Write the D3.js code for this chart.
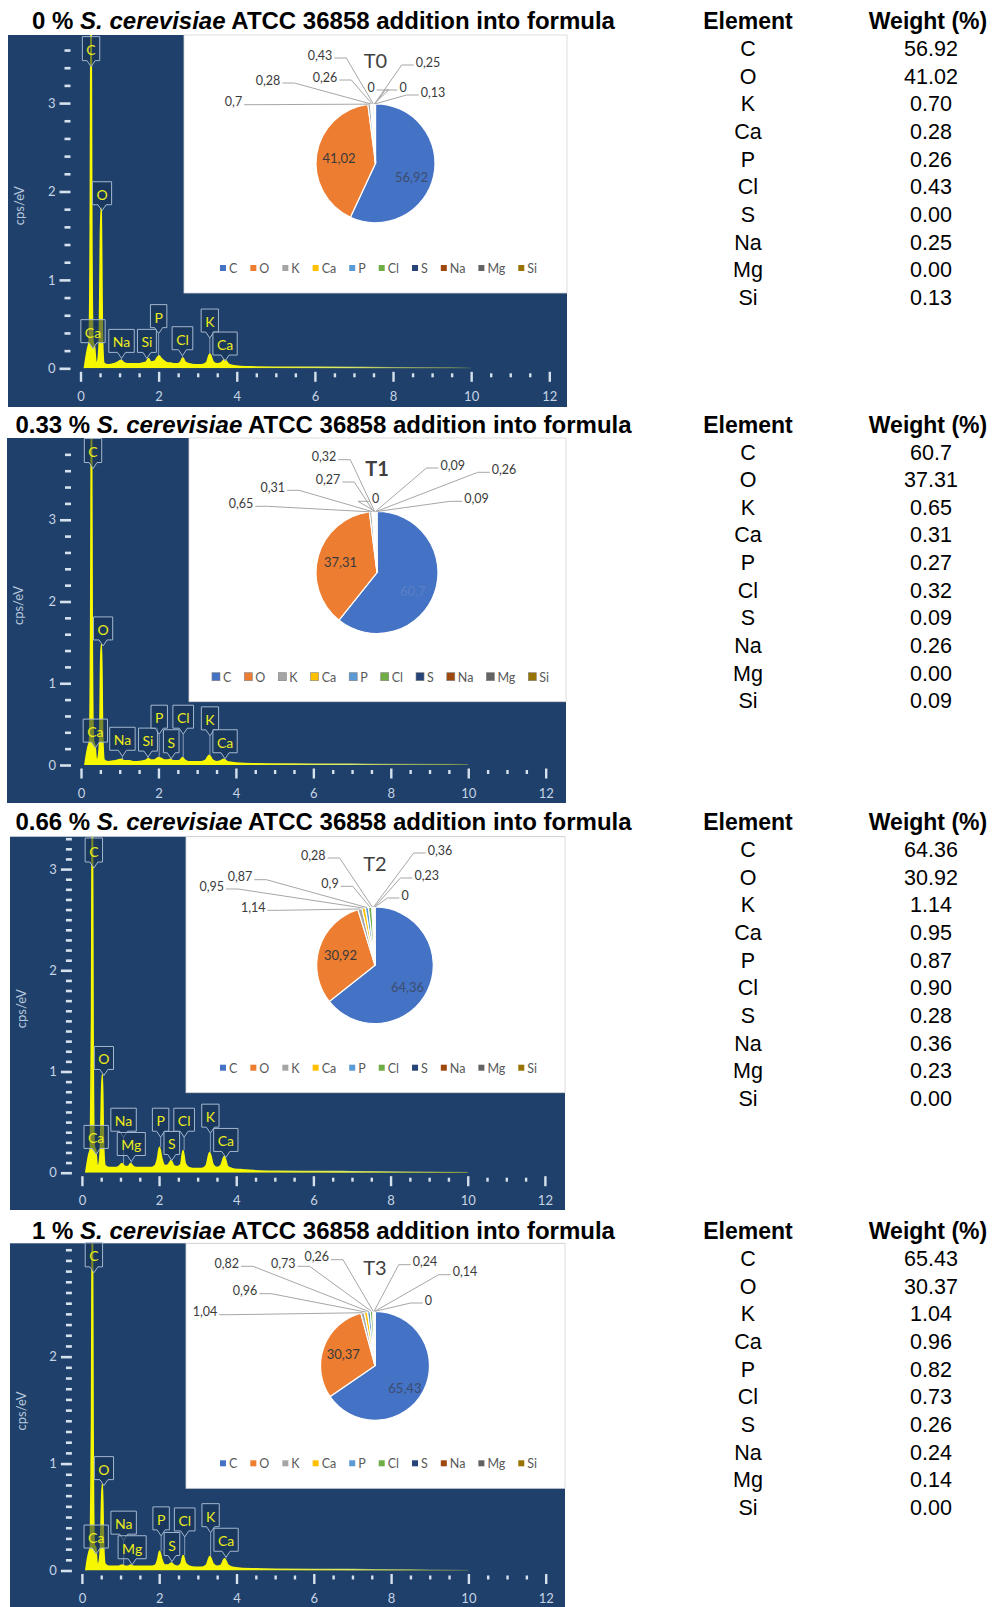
<!DOCTYPE html>
<html>
<head>
<meta charset="utf-8">
<script src="https://cdn.jsdelivr.net/npm/d3@7"></script>
<style>
  body { margin: 0; background: #fff; }
  svg { display: block; }
</style>
</head>
<body>
<div id="display"></div>
<script>
// ---------- data ----------
const elements = ['C', 'O', 'K', 'Ca', 'P', 'Cl', 'S', 'Na', 'Mg', 'Si'];
const doses = ['0 %', '0.33 %', '0.66 %', '1 %'];
const pieTitles = ['T0', 'T1', 'T2', 'T3'];

// table columns (as printed)
const t0Weight = ['56.92', '41.02', '0.70', '0.28', '0.26', '0.43', '0.00', '0.25', '0.00', '0.13'];
const t1Weight = ['60.7', '37.31', '0.65', '0.31', '0.27', '0.32', '0.09', '0.26', '0.00', '0.09'];
const t2Weight = ['64.36', '30.92', '1.14', '0.95', '0.87', '0.90', '0.28', '0.36', '0.23', '0.00'];
const t3Weight = ['65.43', '30.37', '1.04', '0.96', '0.82', '0.73', '0.26', '0.24', '0.14', '0.00'];

// pie slices, in legend order C..Si (values as labelled on the pies)
const t0Pie = [56.92, 41.02, 0.7, 0.28, 0.26, 0.43, 0, 0.25, 0, 0.13];
const t1Pie = [60.7, 37.31, 0.65, 0.31, 0.27, 0.32, 0, 0.09, 0.26, 0.09];
const t2Pie = [64.36, 30.92, 1.14, 0.95, 0.87, 0.9, 0.28, 0.36, 0.23, 0];
const t3Pie = [65.43, 30.37, 1.04, 0.96, 0.82, 0.73, 0.26, 0.24, 0.14, 0];

// EDS spectra: energy (keV) and counts (cps/eV)
const energy = [0.10, 0.14, 0.18, 0.22, 0.25, 0.27, 0.29, 0.32, 0.36, 0.40,
                0.44, 0.48, 0.51, 0.53, 0.56, 0.60, 0.70, 0.85, 0.95, 1.04,
                1.12, 1.20, 1.26, 1.34, 1.45, 1.60, 1.68, 1.74, 1.80, 1.90,
                1.96, 2.01, 2.07, 2.15, 2.24, 2.31, 2.38, 2.48, 2.56, 2.62,
                2.68, 2.78, 2.95, 3.10, 3.22, 3.31, 3.40, 3.50, 3.60, 3.69,
                3.78, 3.90, 4.10, 4.50, 5.00, 6.00, 7.00, 8.00, 9.00, 10.0];
const t0Counts = [0.00, 0.12, 0.22, 0.30, 1.60, 4.20, 1.50, 0.30, 0.24, 0.05,
                  0.08, 0.30, 1.50, 1.81, 0.40, 0.06, 0.04, 0.05, 0.07, 0.09,
                  0.06, 0.05, 0.05, 0.05, 0.05, 0.06, 0.07, 0.11, 0.07, 0.08,
                  0.12, 0.14, 0.11, 0.08, 0.06, 0.06, 0.05, 0.05, 0.07, 0.12,
                  0.07, 0.05, 0.04, 0.04, 0.06, 0.16, 0.07, 0.05, 0.06, 0.10,
                  0.05, 0.03, 0.02, 0.015, 0.012, 0.010, 0.008, 0.006, 0.005, 0.003];
const t1Counts = [0.00, 0.12, 0.22, 0.30, 1.70, 4.50, 1.60, 0.30, 0.24, 0.05,
                  0.08, 0.28, 1.30, 1.48, 0.35, 0.06, 0.04, 0.05, 0.06, 0.07,
                  0.05, 0.05, 0.05, 0.04, 0.04, 0.05, 0.06, 0.08, 0.06, 0.06,
                  0.08, 0.09, 0.08, 0.06, 0.06, 0.07, 0.05, 0.05, 0.06, 0.09,
                  0.06, 0.04, 0.04, 0.04, 0.06, 0.12, 0.06, 0.04, 0.05, 0.07,
                  0.04, 0.03, 0.02, 0.015, 0.012, 0.010, 0.008, 0.006, 0.005, 0.003];
const t2Counts = [0.00, 0.10, 0.18, 0.24, 1.50, 3.80, 1.40, 0.26, 0.22, 0.06,
                  0.08, 0.25, 0.80, 0.97, 0.30, 0.07, 0.05, 0.05, 0.06, 0.09,
                  0.06, 0.06, 0.09, 0.06, 0.05, 0.05, 0.05, 0.05, 0.05, 0.07,
                  0.14, 0.25, 0.14, 0.07, 0.08, 0.12, 0.07, 0.06, 0.08, 0.22,
                  0.09, 0.05, 0.04, 0.04, 0.07, 0.20, 0.08, 0.05, 0.07, 0.16,
                  0.06, 0.04, 0.03, 0.02, 0.015, 0.012, 0.010, 0.008, 0.006, 0.004];
const t3Counts = [0.00, 0.10, 0.17, 0.22, 1.40, 3.50, 1.30, 0.24, 0.21, 0.05,
                  0.07, 0.22, 0.65, 0.81, 0.26, 0.06, 0.04, 0.04, 0.04, 0.05,
                  0.04, 0.04, 0.05, 0.04, 0.04, 0.04, 0.04, 0.04, 0.04, 0.05,
                  0.10, 0.18, 0.10, 0.05, 0.05, 0.07, 0.05, 0.04, 0.06, 0.14,
                  0.07, 0.04, 0.03, 0.03, 0.05, 0.13, 0.06, 0.04, 0.05, 0.11,
                  0.05, 0.03, 0.02, 0.015, 0.012, 0.010, 0.008, 0.006, 0.005, 0.003];

// y axis extent and minor tick step of each spectrum
const yMax = [3.77, 4.0, 3.32, 3.06];
const yMinor = [0.2, 0.2, 0.1, 0.1];
const xTicks = [0, 2, 4, 6, 8, 10, 12];

// peak markers: element, keV, cps level of the marker box bottom
const t0Peaks = [['C', 0.27, 3.48], ['O', 0.55, 1.85], ['Ca', 0.32, 0.29], ['Na', 1.05, 0.18], ['Si', 1.70, 0.18],
                 ['P', 2.00, 0.46], ['Cl', 2.61, 0.21], ['K', 3.31, 0.41], ['Ca', 3.70, 0.15]];
const t1Peaks = [['C', 0.31, 3.70], ['O', 0.57, 1.53], ['Ca', 0.37, 0.28], ['Na', 1.07, 0.18], ['Si', 1.73, 0.17],
                 ['P', 2.02, 0.45], ['S', 2.33, 0.15], ['Cl', 2.64, 0.45], ['K', 3.33, 0.43], ['Ca', 3.72, 0.15]];
const t2Peaks = [['C', 0.31, 3.07], ['O', 0.57, 1.02], ['Ca', 0.37, 0.24], ['Na', 1.08, 0.41], ['Mg', 1.28, 0.17],
                 ['P', 2.04, 0.41], ['S', 2.33, 0.18], ['Cl', 2.65, 0.41], ['K', 3.33, 0.45], ['Ca', 3.73, 0.21]];
const t3Peaks = [['C', 0.31, 2.84], ['O', 0.57, 0.85], ['Ca', 0.37, 0.21], ['Na', 1.08, 0.34], ['Mg', 1.30, 0.11],
                 ['P', 2.05, 0.38], ['S', 2.33, 0.14], ['Cl', 2.66, 0.37], ['K', 3.33, 0.41], ['Ca', 3.73, 0.18]];

const weights = [t0Weight, t1Weight, t2Weight, t3Weight];
const pies = [t0Pie, t1Pie, t2Pie, t3Pie];
const counts = [t0Counts, t1Counts, t2Counts, t3Counts];
const peaks = [t0Peaks, t1Peaks, t2Peaks, t3Peaks];

// ---------- layout ----------
const panels = [
  {titleY: 20, box: [8, 567, 35, 407], zero: 368.3, x0: 80.5, x12: 549.3,
   inset: [184, 567, 35, 293], cx: 375.5, cy: 163.3, r: 59.5},
  {titleY: 423.5, box: [7, 566, 438, 803], zero: 765, x0: 81, x12: 545.7,
   inset: [189, 566, 438, 701.7], cx: 377, cy: 572.5, r: 61},
  {titleY: 821, box: [10, 565, 836.7, 1210], zero: 1172.7, x0: 81.9, x12: 544.9,
   inset: [186, 565, 836.7, 1092.7], cx: 375, cy: 965.3, r: 58.3},
  {titleY: 1230, box: [10, 565, 1243.3, 1607], zero: 1570.5, x0: 81.9, x12: 545.7,
   inset: [186, 565, 1243.3, 1488.3], cx: 375, cy: 1365.8, r: 54.5}
];

// where the outside pie labels sit, relative to pie centre (slices K..Si)
const pieLabelPos = [
  [[-142, -61.6], [-107.5, -83.3], [-50.5, -86.3], [-55.5, -108.3], [-4.5, -76.3], [52.5, -101.3], [27.5, -76.3], [57.5, -71.3]],
  [[-136, -69.2], [-104.2, -85.2], [-49, -93.5], [-53, -115.8], [-1.4, -74.2], [75.7, -107.5], [127, -103.2], [99.5, -74.2]],
  [[-121.7, -58], [-163.3, -79.3], [-135, -88.6], [-45, -82], [-61.7, -110.3], [65, -115.3], [51.7, -90.3], [30, -70.3]],
  [[-170, -54.1], [-130, -75.1], [-148.3, -102.5], [-91.7, -102.5], [-58.3, -109.1], [50, -104.1], [90, -94.1], [53.3, -65.8]]
];
const pieTitleDy = [-103.3, -104.2, -102, -99.1];
const pieTitleWeight = [400, 700, 400, 400];
const legendSize = [6, 8, 6, 6];
const cLabelColor = ['#3d4d70', '#5b7fc4', '#3d4d70', '#3d4d70'];

const pieColors = ['#4472c4', '#ed7d31', '#a5a5a5', '#ffc000', '#5b9bd5',
                   '#70ad47', '#264478', '#9e480e', '#636363', '#997300'];

const svg = d3.select('#display')
  .append('svg')
    .attr('width', 993)
    .attr('height', 1607);

const defs = svg.append('defs');

const commaFmt = v => String(v).replace('.', ',');

function measure(txt, font) {
  const t = svg.append('text').style('font', font).text(txt);
  const w = t.node().getComputedTextLength();
  t.remove();
  return w;
}

panels.forEach((p, k) => drawPanel(p, k));

function drawPanel(p, k) {
  const g = svg.append('g');

  // title
  const title = g.append('text')
    .attr('x', 323.5)
    .attr('y', p.titleY)
    .attr('text-anchor', 'middle')
    .attr('dominant-baseline', 'central')
    .style('font', 'bold 24px "Liberation Sans", Arial, sans-serif')
    .attr('fill', '#000');
  title.append('tspan').text(doses[k] + ' ');
  title.append('tspan').style('font-style', 'italic').text('S. cerevisiae');
  title.append('tspan').text(' ATCC 36858 addition into formula');

  // ---- spectrum ----
  const [bx0, bx1, by0, by1] = p.box;
  g.append('rect')
    .attr('x', bx0).attr('y', by0)
    .attr('width', bx1 - bx0).attr('height', by1 - by0)
    .attr('fill', '#1f406a');

  const x = d3.scaleLinear().domain([0, 12]).range([p.x0, p.x12]);
  const y = d3.scaleLinear().domain([0, yMax[k]]).range([p.zero, by0]);

  // y axis: integer labels + dashes (no label squeezed against the top edge)
  const major = d3.range(0, Math.floor(yMax[k]) + 1).filter(v => v <= yMax[k] - 0.2);
  const minor = d3.range(yMinor[k], yMax[k], yMinor[k])
    .filter(v => Math.abs(v - Math.round(v)) > 1e-6 || v > yMax[k] - 0.2);

  const yMinorAxis = g.append('g')
    .attr('transform', 'translate(' + (p.x0 - 10) + ',0)')
    .call(d3.axisLeft(y).tickValues(minor).tickSize(6).tickFormat(''));
  const yMajorAxis = g.append('g')
    .attr('transform', 'translate(' + (p.x0 - 10) + ',0)')
    .call(d3.axisLeft(y).tickValues(major).tickSize(11).tickPadding(4).tickFormat(d3.format('d')));
  [yMinorAxis, yMajorAxis].forEach(a => {
    a.select('.domain').remove();
    a.selectAll('line').attr('stroke', '#d6e1ee').attr('stroke-width', 2.6);
    a.selectAll('text').attr('fill', '#c7d4e5').style('font', '13px Lato, sans-serif');
  });

  // x axis ticks under the zero line
  const xMinorAxis = g.append('g')
    .attr('transform', 'translate(0,' + (p.zero + 5) + ')')
    .call(d3.axisBottom(x).tickValues(d3.range(0.5, 12, 0.5).filter(v => v % 2 !== 0)).tickSize(4).tickFormat(''));
  const xMajorAxis = g.append('g')
    .attr('transform', 'translate(0,' + (p.zero + 3.5) + ')')
    .call(d3.axisBottom(x).tickValues(xTicks).tickSize(10).tickPadding(10));
  [xMinorAxis, xMajorAxis].forEach(a => {
    a.select('.domain').remove();
    a.selectAll('line').attr('stroke', '#d6e1ee').attr('stroke-width', 2.4);
    a.selectAll('text').attr('fill', '#c7d4e5').style('font', '13px Lato, sans-serif');
  });

  // axis title
  g.append('text')
    .attr('transform', 'translate(' + (bx0 + 11) + ',' + ((by0 + p.zero) / 2 + 4) + ') rotate(-90)')
    .attr('text-anchor', 'middle')
    .attr('dominant-baseline', 'central')
    .attr('fill', '#b7c8dc')
    .style('font', '13px Lato, sans-serif')
    .text('cps/eV');

  // spectrum trace
  const clipId = 'clip' + k;
  defs.append('clipPath').attr('id', clipId)
    .append('rect')
      .attr('x', bx0).attr('y', by0)
      .attr('width', bx1 - bx0).attr('height', p.zero - by0);

  const gradId = 'tail' + k;
  const grad = defs.append('linearGradient').attr('id', gradId)
    .attr('gradientUnits', 'userSpaceOnUse')
    .attr('x1', x(3.8)).attr('x2', x(10)).attr('y1', 0).attr('y2', 0);
  grad.append('stop').attr('offset', 0).attr('stop-color', '#f7f700');
  grad.append('stop').attr('offset', 0.5).attr('stop-color', '#d9e86a');
  grad.append('stop').attr('offset', 1).attr('stop-color', '#7f9a80').attr('stop-opacity', 0.2);

  const pts = energy.map((e, i) => [e, counts[k][i]]);
  const sg = g.append('g').attr('clip-path', 'url(#' + clipId + ')');
  sg.append('path')
    .datum(pts)
    .attr('fill', '#f7f700')
    .attr('d', d3.area().x(d => x(d[0])).y0(y(0)).y1(d => y(d[1])).curve(d3.curveMonotoneX));
  sg.append('path')
    .datum(pts)
    .attr('fill', 'none')
    .attr('stroke', 'url(#' + gradId + ')')
    .attr('stroke-width', 1.6)
    .attr('d', d3.line().x(d => x(d[0])).y(d => y(d[1])).curve(d3.curveMonotoneX));

  // peak markers
  const mFont = '14px Lato, sans-serif';
  peaks[k].forEach(([name, kev, level]) => {
    const cx = x(kev);
    const bottom = y(level);
    const w = Math.max(15, measure(name, mFont) + 8);
    const h = name === 'C' ? 24 : 23;
    const top = bottom - h;
    // peak height below the marker
    const near = pts.filter(d => Math.abs(d[0] - kev) <= 0.08);
    const peakY = y(d3.max(near, d => d[1]) || 0);
    if (peakY > bottom + 6) {
      g.append('line')
        .attr('x1', cx).attr('x2', cx)
        .attr('y1', bottom + 6).attr('y2', peakY)
        .attr('stroke', '#9fb3cc').attr('stroke-width', 0.8);
    }
    const path = d3.path();
    path.moveTo(cx - w / 2, top);
    path.lineTo(cx + w / 2, top);
    path.lineTo(cx + w / 2, bottom);
    path.lineTo(cx + 4, bottom);
    path.lineTo(cx, bottom + 6);
    path.lineTo(cx - 4, bottom);
    path.lineTo(cx - w / 2, bottom);
    path.closePath();
    g.append('path')
      .attr('d', path.toString())
      .attr('fill', 'rgba(22,48,84,0.55)')
      .attr('stroke', '#a3b7cf')
      .attr('stroke-width', 1);
    g.append('text')
      .attr('x', cx).attr('y', top + h / 2 + 1)
      .attr('text-anchor', 'middle')
      .attr('dominant-baseline', 'central')
      .attr('fill', '#eded1a')
      .style('font', mFont)
      .text(name);
  });

  // ---- inset pie chart ----
  const [ix0, ix1, iy0, iy1] = p.inset;
  g.append('rect')
    .attr('x', ix0).attr('y', iy0)
    .attr('width', ix1 - ix0).attr('height', iy1 - iy0)
    .attr('fill', '#fff')
    .attr('stroke', '#d4d4d4')
    .attr('stroke-width', 0.8);

  const arcs = d3.pie().sort(null).value(d => d)(pies[k]);
  const arc = d3.arc().innerRadius(0).outerRadius(p.r);
  const inner = d3.arc().innerRadius(p.r * 0.62).outerRadius(p.r * 0.62);
  const pg = g.append('g').attr('transform', 'translate(' + p.cx + ',' + p.cy + ')');

  pg.selectAll('path.slice')
    .data(arcs)
    .enter()
    .append('path')
      .attr('class', 'slice')
      .attr('d', arc)
      .attr('fill', (d, i) => pieColors[i])
      .attr('stroke', '#fff')
      .attr('stroke-width', 1.2);

  const pFont = '12.5px Lato, sans-serif';
  // big slices: labels inside
  arcs.slice(0, 2).forEach((d, i) => {
    const c = inner.centroid(d);
    pg.append('text')
      .attr('x', c[0]).attr('y', c[1] + (i === 0 ? 6 : 0))
      .attr('text-anchor', 'middle')
      .attr('dominant-baseline', 'central')
      .attr('fill', i === 0 ? cLabelColor[k] : '#3a3a3a')
      .style('font', '13px Lato, sans-serif')
      .text(commaFmt(d.data));
  });

  // small slices: labels outside with leader lines
  arcs.slice(2).forEach((d, j) => {
    const [lx, ly] = pieLabelPos[k][j];
    const mid = (d.startAngle + d.endAngle) / 2;
    const px = p.r * Math.sin(mid);
    const py = -p.r * Math.cos(mid);
    const txt = commaFmt(d.data);
    const w = measure(txt, pFont);
    const side = lx < px ? 1 : -1;
    const sx = lx + side * (w / 2 + 2);
    const sy = ly + 3;
    pg.append('path')
      .attr('d', d3.line()([[sx, sy], [sx + side * 12, sy], [px, py]]))
      .attr('fill', 'none')
      .attr('stroke', '#a6a6a6')
      .attr('stroke-width', 1);
    pg.append('text')
      .attr('x', lx).attr('y', ly)
      .attr('text-anchor', 'middle')
      .attr('dominant-baseline', 'central')
      .attr('fill', '#3a3a3a')
      .style('font', pFont)
      .text(txt);
  });

  pg.append('text')
    .attr('x', 0).attr('y', pieTitleDy[k])
    .attr('text-anchor', 'middle')
    .attr('dominant-baseline', 'central')
    .attr('fill', '#404040')
    .style('font', pieTitleWeight[k] + ' 20px Lato, sans-serif')
    .text(pieTitles[k]);

  // legend
  const lFont = '12.5px Lato, sans-serif';
  const s = legendSize[k];
  const gap = 13;
  const items = elements.map(el => ({el, w: measure(el, lFont)}));
  const total = d3.sum(items, d => s + 3 + d.w) + gap * (items.length - 1);
  let lx = (ix0 + ix1) / 2 - total / 2 + 3;
  const ly = iy1 - 25;
  items.forEach((d, i) => {
    g.append('rect')
      .attr('x', lx).attr('y', ly - s / 2)
      .attr('width', s).attr('height', s)
      .attr('fill', pieColors[i])
      .attr('stroke', k === 1 ? '#7f7f7f' : 'none')
      .attr('stroke-width', 0.6);
    g.append('text')
      .attr('x', lx + s + 3).attr('y', ly + 0.5)
      .attr('dominant-baseline', 'central')
      .attr('fill', '#595959')
      .style('font', lFont)
      .text(d.el);
    lx += s + 3 + d.w + gap;
  });

  // ---- table ----
  const hFont = 'bold 23px "Liberation Sans", Arial, sans-serif';
  const rFont = '21.5px "Liberation Sans", Arial, sans-serif';
  g.append('text')
    .attr('x', 748).attr('y', p.titleY + 1)
    .attr('text-anchor', 'middle').attr('dominant-baseline', 'central')
    .style('font', hFont).text('Element');
  g.append('text')
    .attr('x', 928).attr('y', p.titleY + 1)
    .attr('text-anchor', 'middle').attr('dominant-baseline', 'central')
    .style('font', hFont).text('Weight (%)');
  elements.forEach((el, i) => {
    const ry = p.titleY + 29 + i * 27.65;
    g.append('text')
      .attr('x', 748).attr('y', ry)
      .attr('text-anchor', 'middle').attr('dominant-baseline', 'central')
      .style('font', rFont).text(el);
    g.append('text')
      .attr('x', 931).attr('y', ry)
      .attr('text-anchor', 'middle').attr('dominant-baseline', 'central')
      .style('font', rFont).text(weights[k][i]);
  });
}
</script>
</body>
</html>
